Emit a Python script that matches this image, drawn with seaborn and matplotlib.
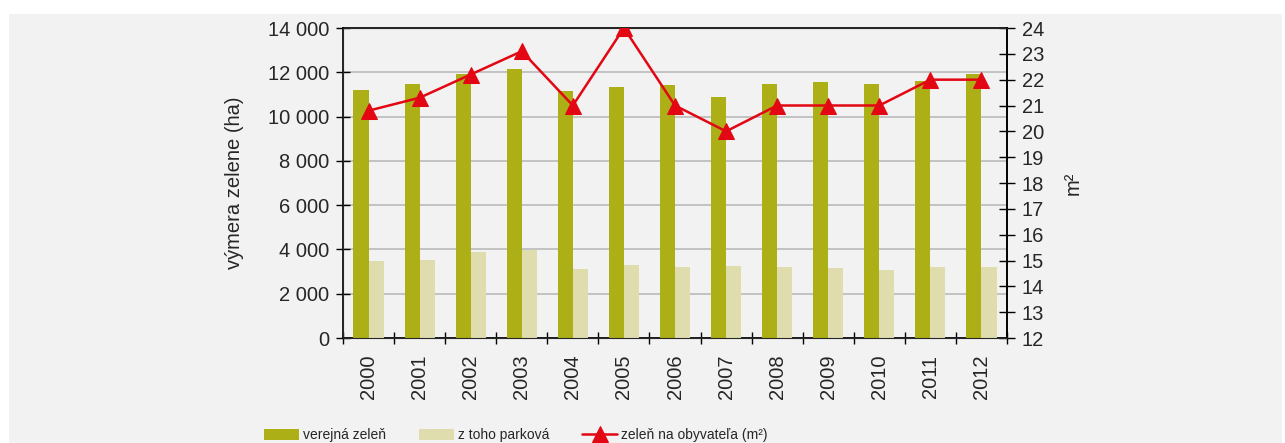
import numpy as np
import pandas as pd
import seaborn as sns
import matplotlib.pyplot as plt
from matplotlib import font_manager
from matplotlib.patches import Rectangle
from matplotlib.ticker import FuncFormatter, MultipleLocator

# Data
years = [str(y) for y in range(2000, 2013)]
verejna = [11200, 11470, 11910, 12150, 11160, 11340, 11430, 10890, 11470, 11560, 11470, 11610, 11920]
parkova = [3480, 3520, 3890, 3980, 3120, 3300, 3210, 3250, 3210, 3160, 3070, 3210, 3210]
na_obyv = [20.8, 21.3, 22.2, 23.1, 21.0, 24.0, 21.0, 20.0, 21.0, 21.0, 21.0, 22.0, 22.0]

series_names = ["verejná zeleň", "z toho parková"]
line_name = "zeleň na obyvateľa (m²)"

df = pd.DataFrame({
    "rok": years * 2,
    "vymera": verejna + parkova,
    "typ": [series_names[0]] * len(years) + [series_names[1]] * len(years),
})

sns.set_style("white")
plt.rcParams["font.family"] = ["Liberation Sans", "DejaVu Sans"]
fs = 14.5

# legend text in the original is a narrow face; use one if it is installed
names = {f.name for f in font_manager.fontManager.ttflist}
if "Liberation Sans Narrow" in names:
    leg_prop = {"family": ["Liberation Sans Narrow", "DejaVu Sans"], "size": 12}
else:
    leg_prop = {"family": ["Liberation Sans", "DejaVu Sans"], "size": 10}
em = leg_prop["size"] * 100 / 72

fig = plt.figure(figsize=(12.85, 4.43), dpi=100, facecolor="white")
# gray panel behind the chart
fig.patches.append(Rectangle((9 / 1285, 0), 1273 / 1285, 429 / 443,
                             transform=fig.transFigure, facecolor="#f2f2f2",
                             edgecolor="none", zorder=-10))

ax = fig.add_axes([343 / 1285, 105 / 443, 664 / 1285, 310 / 443])
ax.set_facecolor("#f2f2f2")

sns.barplot(data=df, x="rok", y="vymera", hue="typ", ax=ax,
            palette=["#adaf17", "#dfdcae"], width=0.59, gap=0,
            saturation=1, legend=False, linewidth=0, edgecolor="none", zorder=3)

ax.set_ylim(0, 14000)
ax.set_xlim(-0.5, len(years) - 0.5)
ax.yaxis.set_major_locator(MultipleLocator(2000))
ax.yaxis.set_major_formatter(FuncFormatter(lambda v, p: f"{int(v):,}".replace(",", " ")))
ax.grid(axis="y", color="#c2c2c2", linewidth=1.4, zorder=0)
ax.set_axisbelow(True)
ax.set_xlabel("")
ax.set_ylabel("výmera zelene (ha)", fontsize=fs, labelpad=17)

ax.set_xticks(np.arange(len(years)))
ax.set_xticklabels(years, rotation=90, fontsize=fs)
ax.set_xticks(np.arange(len(years) + 1) - 0.5, minor=True)
ax.tick_params(axis="x", which="major", bottom=True, length=0, pad=12)
ax.tick_params(axis="x", which="minor", bottom=True, length=9, direction="inout",
               width=1, color="black")
ax.tick_params(axis="y", left=True, labelsize=fs, length=10, direction="inout",
               width=1, color="black", pad=5)

for s in ax.spines.values():
    s.set_color("black")
    s.set_linewidth(1.2)
    s.set_visible(True)

ax2 = ax.twinx()
sns.lineplot(x=np.arange(len(years)), y=na_obyv, ax=ax2, color="#e30613",
             linewidth=1.8, marker="^", markersize=11, markeredgecolor="#e30613",
             label=line_name, zorder=5)
ax2.set_ylim(12, 24)
ax2.yaxis.set_major_locator(MultipleLocator(1))
ax2.tick_params(axis="y", right=True, labelsize=fs, length=11, direction="inout",
                width=1, color="black", pad=5)
ax2.set_ylabel("m²", fontsize=fs, labelpad=14)
ax2.spines["right"].set_color("black")
ax2.spines["right"].set_linewidth(1.2)
ax2.legend_.remove()

handles = ax.patches[:1] + [ax.patches[len(years)]] + ax2.get_lines()[:1]
fig.legend(handles, series_names + [line_name], loc="center",
           bbox_to_anchor=(516 / 1285, 8 / 443), ncol=3, frameon=False,
           prop=leg_prop, handlelength=35 / em, handleheight=12 / em,
           handletextpad=4 / em, columnspacing=33 / em, borderpad=0)

fig.savefig("out.png", dpi=100, facecolor="white")
